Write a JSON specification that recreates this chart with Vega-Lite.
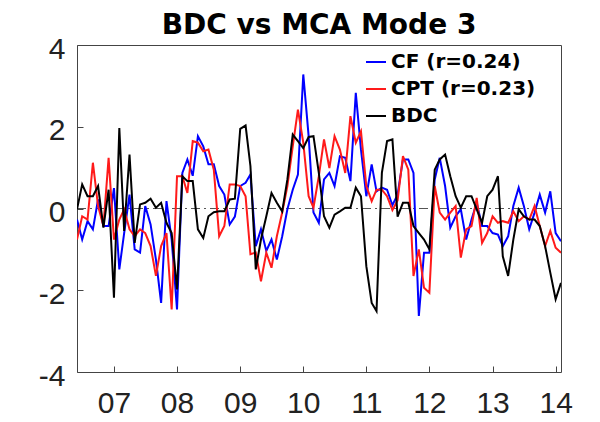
{
  "$schema": "https://vega.github.io/schema/vega-lite/v6.json",
  "width": 484,
  "height": 327,
  "autosize": {"type": "none"},
  "padding": {"left": 77, "top": 45, "right": 39, "bottom": 50},
  "background": "white",
  "title": {"text": "BDC vs MCA Mode 3", "fontSize": 28, "fontWeight": "bold", "font": "DejaVu Sans", "color": "#000", "anchor": "middle", "offset": -6},
  "config": {"view": {"stroke": "#444", "strokeWidth": 1}, "font": "Liberation Sans"},
  "layer": [
    {
      "data": {"values": [{"z": 0}]},
      "mark": {"type": "rule", "color": "#555", "strokeWidth": 1.2, "strokeDash": [9, 4, 2, 4]},
      "encoding": {"y": {"field": "z", "type": "quantitative"}}
    },
    {
      "data": {
        "values": [
          {"d":"2006-06-01","CF":-0.27,"CPT":-0.76,"BDC":-0.02},
          {"d":"2006-07-01","CF":-0.76,"CPT":-0.19,"BDC":0.59},
          {"d":"2006-08-01","CF":-0.31,"CPT":-0.27,"BDC":0.30},
          {"d":"2006-09-01","CF":-0.51,"CPT":1.12,"BDC":0.30},
          {"d":"2006-10-01","CF":0.22,"CPT":0.06,"BDC":0.55},
          {"d":"2006-11-01","CF":-0.43,"CPT":-0.43,"BDC":-0.47},
          {"d":"2006-12-01","CF":-0.43,"CPT":1.24,"BDC":0.46},
          {"d":"2007-01-01","CF":0.50,"CPT":-0.76,"BDC":-2.18},
          {"d":"2007-02-01","CF":-1.49,"CPT":-0.27,"BDC":1.97},
          {"d":"2007-03-01","CF":-0.60,"CPT":-0.02,"BDC":-0.55},
          {"d":"2007-04-01","CF":0.34,"CPT":-0.51,"BDC":1.32},
          {"d":"2007-05-01","CF":-1.00,"CPT":-0.68,"BDC":-0.84},
          {"d":"2007-06-01","CF":-1.08,"CPT":-0.51,"BDC":0.10},
          {"d":"2007-07-01","CF":0.06,"CPT":-0.60,"BDC":0.14},
          {"d":"2007-08-01","CF":-0.39,"CPT":-0.92,"BDC":0.24},
          {"d":"2007-09-01","CF":-1.25,"CPT":-1.65,"BDC":0.02},
          {"d":"2007-10-01","CF":-2.31,"CPT":-0.92,"BDC":0.14},
          {"d":"2007-11-01","CF":0.18,"CPT":-0.60,"BDC":-0.35},
          {"d":"2007-12-01","CF":-0.76,"CPT":-2.47,"BDC":-0.60},
          {"d":"2008-01-01","CF":-2.47,"CPT":0.79,"BDC":-1.98},
          {"d":"2008-02-01","CF":0.87,"CPT":0.79,"BDC":0.79},
          {"d":"2008-03-01","CF":1.20,"CPT":0.38,"BDC":0.67},
          {"d":"2008-04-01","CF":0.80,"CPT":1.65,"BDC":0.67},
          {"d":"2008-05-01","CF":1.77,"CPT":1.61,"BDC":-0.51},
          {"d":"2008-06-01","CF":1.52,"CPT":1.40,"BDC":-0.72},
          {"d":"2008-07-01","CF":1.08,"CPT":1.44,"BDC":-0.19},
          {"d":"2008-08-01","CF":1.08,"CPT":0.95,"BDC":-0.09},
          {"d":"2008-09-01","CF":0.55,"CPT":-0.68,"BDC":-0.07},
          {"d":"2008-10-01","CF":0.34,"CPT":-0.43,"BDC":-0.07},
          {"d":"2008-11-01","CF":-0.39,"CPT":0.59,"BDC":0.22},
          {"d":"2008-12-01","CF":-0.20,"CPT":0.59,"BDC":0.24},
          {"d":"2009-01-01","CF":0.55,"CPT":0.55,"BDC":1.95},
          {"d":"2009-02-01","CF":0.63,"CPT":0.30,"BDC":2.03},
          {"d":"2009-03-01","CF":0.83,"CPT":-1.12,"BDC":1.04},
          {"d":"2009-04-01","CF":-0.92,"CPT":-1.08,"BDC":-1.49},
          {"d":"2009-05-01","CF":-0.51,"CPT":-1.78,"BDC":-0.76},
          {"d":"2009-06-01","CF":-1.04,"CPT":-1.08,"BDC":-0.19},
          {"d":"2009-07-01","CF":-0.76,"CPT":-1.45,"BDC":0.38},
          {"d":"2009-08-01","CF":-1.25,"CPT":-0.68,"BDC":0.14},
          {"d":"2009-09-01","CF":-0.68,"CPT":-0.10,"BDC":-0.07},
          {"d":"2009-10-01","CF":-0.02,"CPT":0.55,"BDC":0.71},
          {"d":"2009-11-01","CF":0.46,"CPT":1.52,"BDC":1.81},
          {"d":"2009-12-01","CF":0.83,"CPT":2.42,"BDC":1.65},
          {"d":"2010-01-01","CF":3.28,"CPT":1.61,"BDC":1.48},
          {"d":"2010-02-01","CF":1.77,"CPT":0.30,"BDC":1.75},
          {"d":"2010-03-01","CF":-0.10,"CPT":0.02,"BDC":1.77},
          {"d":"2010-04-01","CF":-0.35,"CPT":0.79,"BDC":0.87},
          {"d":"2010-05-01","CF":0.71,"CPT":1.69,"BDC":-0.19},
          {"d":"2010-06-01","CF":0.87,"CPT":0.99,"BDC":-0.47},
          {"d":"2010-07-01","CF":0.55,"CPT":1.77,"BDC":-0.15},
          {"d":"2010-08-01","CF":1.28,"CPT":1.44,"BDC":-0.07},
          {"d":"2010-09-01","CF":1.24,"CPT":0.87,"BDC":0.02},
          {"d":"2010-10-01","CF":0.67,"CPT":2.26,"BDC":0.02},
          {"d":"2010-11-01","CF":2.83,"CPT":1.61,"BDC":0.51},
          {"d":"2010-12-01","CF":1.44,"CPT":1.89,"BDC":0.30},
          {"d":"2011-01-01","CF":0.30,"CPT":0.55,"BDC":-1.41},
          {"d":"2011-02-01","CF":1.08,"CPT":0.18,"BDC":-2.31},
          {"d":"2011-03-01","CF":0.42,"CPT":0.46,"BDC":-2.51},
          {"d":"2011-04-01","CF":0.51,"CPT":0.46,"BDC":0.87},
          {"d":"2011-05-01","CF":0.46,"CPT":0.30,"BDC":1.65},
          {"d":"2011-06-01","CF":0.08,"CPT":-0.04,"BDC":1.69},
          {"d":"2011-07-01","CF":0.34,"CPT":0.20,"BDC":-0.20},
          {"d":"2011-08-01","CF":1.20,"CPT":1.28,"BDC":0.14},
          {"d":"2011-09-01","CF":1.20,"CPT":0.95,"BDC":0.14},
          {"d":"2011-10-01","CF":0.87,"CPT":-1.65,"BDC":-0.43},
          {"d":"2011-11-01","CF":-2.63,"CPT":-1.00,"BDC":-0.60},
          {"d":"2011-12-01","CF":-1.08,"CPT":-1.94,"BDC":-0.76},
          {"d":"2012-01-01","CF":-1.08,"CPT":-2.06,"BDC":-1.00},
          {"d":"2012-02-01","CF":0.71,"CPT":0.55,"BDC":0.95},
          {"d":"2012-03-01","CF":1.24,"CPT":-0.10,"BDC":1.20},
          {"d":"2012-04-01","CF":0.55,"CPT":-0.27,"BDC":1.32},
          {"d":"2012-05-01","CF":-0.47,"CPT":-0.10,"BDC":0.79},
          {"d":"2012-06-01","CF":-0.19,"CPT":0.06,"BDC":0.30},
          {"d":"2012-07-01","CF":-0.02,"CPT":-1.20,"BDC":0.02},
          {"d":"2012-08-01","CF":-0.76,"CPT":-0.51,"BDC":0.30},
          {"d":"2012-09-01","CF":-0.27,"CPT":-0.43,"BDC":0.30},
          {"d":"2012-10-01","CF":0.14,"CPT":0.26,"BDC":-0.02},
          {"d":"2012-11-01","CF":-0.43,"CPT":-0.84,"BDC":-0.35},
          {"d":"2012-12-01","CF":-0.43,"CPT":-0.60,"BDC":0.30},
          {"d":"2013-01-01","CF":-0.60,"CPT":-0.19,"BDC":0.46},
          {"d":"2013-02-01","CF":-0.64,"CPT":-0.35,"BDC":0.79},
          {"d":"2013-03-01","CF":-0.92,"CPT":-0.31,"BDC":-1.17},
          {"d":"2013-04-01","CF":-0.68,"CPT":-0.35,"BDC":-1.65},
          {"d":"2013-05-01","CF":0.06,"CPT":-0.07,"BDC":-0.76},
          {"d":"2013-06-01","CF":0.51,"CPT":-0.31,"BDC":-0.02},
          {"d":"2013-07-01","CF":0.06,"CPT":-0.19,"BDC":-0.19},
          {"d":"2013-08-01","CF":-0.51,"CPT":-0.27,"BDC":-0.27},
          {"d":"2013-09-01","CF":-0.10,"CPT":0.06,"BDC":-0.27},
          {"d":"2013-10-01","CF":0.34,"CPT":-0.43,"BDC":-0.43},
          {"d":"2013-11-01","CF":-0.10,"CPT":-0.92,"BDC":-0.92},
          {"d":"2013-12-01","CF":0.42,"CPT":-0.55,"BDC":-1.57},
          {"d":"2014-01-01","CF":-0.60,"CPT":-0.96,"BDC":-2.22},
          {"d":"2014-02-01","CF":-0.80,"CPT":-1.08,"BDC":-1.82}
        ],
        "format": {"parse": {"d": "date"}}
      },
      "transform": [{"fold": ["CF", "CPT", "BDC"], "as": ["series", "value"]}],
      "mark": {"type": "line", "strokeWidth": 2, "clip": true},
      "encoding": {
        "x": {
          "field": "d", "type": "temporal",
          "scale": {"type": "utc", "domain": [{"year": 2006, "month": 6, "date": 1, "utc": true}, {"year": 2014, "month": 2, "date": 1, "utc": true}]},
          "axis": {
            "title": null, "format": "%y", "grid": false,
            "values": [{"year": 2007, "utc": true}, {"year": 2008, "utc": true}, {"year": 2009, "utc": true}, {"year": 2010, "utc": true}, {"year": 2011, "utc": true}, {"year": 2012, "utc": true}, {"year": 2013, "utc": true}, {"year": 2014, "utc": true}],
            "labelFontSize": 30, "labelColor": "#222", "labelPadding": 22,
            "tickSize": -6, "tickColor": "#444", "domain": false
          }
        },
        "y": {
          "field": "value", "type": "quantitative",
          "scale": {"domain": [-4, 4], "nice": false, "zero": false},
          "axis": {
            "title": null, "values": [-4, -2, 0, 2, 4], "grid": false,
            "labelExpr": "'' + datum.value",
            "labelFontSize": 30, "labelColor": "#222", "labelPadding": 18, "labelOffset": 4,
            "tickSize": -6, "tickColor": "#444", "domain": false
          }
        },
        "color": {
          "field": "series", "type": "nominal",
          "scale": {"domain": ["CF", "CPT", "BDC"], "range": ["#0000ff", "#ff1a1a", "#000000"]},
          "legend": {
            "title": null, "orient": "none", "legendX": 288, "legendY": 6,
            "symbolType": "stroke", "symbolSize": 400, "symbolStrokeWidth": 2,
            "labelFont": "DejaVu Sans", "labelFontSize": 20, "labelFontWeight": "bold", "labelColor": "#000", "labelOffset": 4,
            "rowPadding": 6,
            "labelExpr": "datum.label == 'CF' ? 'CF (r=0.24)' : datum.label == 'CPT' ? 'CPT (r=0.23)' : 'BDC'"
          }
        }
      }
    }
  ]
}
